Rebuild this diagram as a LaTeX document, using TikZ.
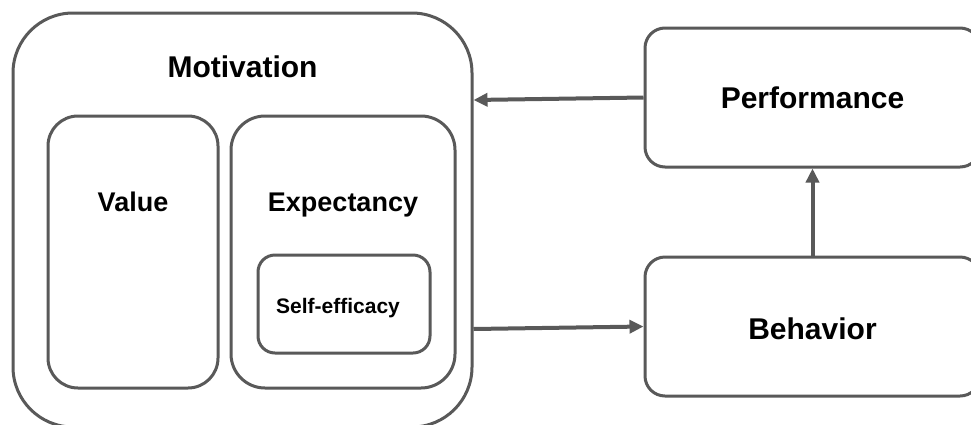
\documentclass[tikz,border=0pt]{standalone}
\usepackage{fontspec}
\setmainfont{Liberation Sans}
\usepackage{tikz}
\usetikzlibrary{arrows.meta,positioning}
\definecolor{linegray}{RGB}{89,89,89}

\begin{document}
\begin{tikzpicture}[x=1pt,y=-1pt,
    box/.style={draw=linegray,line width=3pt,fill=none,inner sep=0pt},
    flow/.style={draw=linegray,line width=4pt,-{Triangle[length=14pt,width=13pt]}},
    bigtext/.style={font=\bfseries\fontsize{30}{36}\selectfont,anchor=base},
    midtext/.style={font=\bfseries\fontsize{27}{32}\selectfont,anchor=base},
    smalltext/.style={font=\bfseries\fontsize{21}{25}\selectfont,anchor=base}]
            \clip (0,0) rectangle (971,424);
            \fill [white](0,0) rectangle (971,424);
            % boxes
            \node [box,minimum width=459pt,minimum height=414pt,rounded corners=60pt] (motivation) at (242.5,220) {};
            \node [box,minimum width=170pt,minimum height=272pt,rounded corners=30pt] (value) at (133,252) {};
            \node [box,minimum width=224pt,minimum height=272pt,rounded corners=34pt] (expectancy) at (343,252) {};
            \node [box,minimum width=172pt,minimum height=98pt,rounded corners=17pt] (selfeff) at (344,304) {};
            \node [box,minimum width=335pt,minimum height=139pt,rounded corners=20pt] (performance) at (812.5,97.5) {};
            \node [box,minimum width=335pt,minimum height=139pt,rounded corners=20pt] (behavior) at (812.5,326.5) {};
            % labels
            \node [bigtext] (motivationtxt) at (242.5,77) {Motivation};
            \node [midtext] (valuetxt) at (133,211) {Value};
            \node [midtext] (expectancytxt) at (343,211) {Expectancy};
            \node [smalltext] (selfefftxt) at (338,313) {Self-efficacy};
            \node [bigtext] (performancetxt) at (812.5,108) {Performance};
            \node [bigtext] (behaviortxt) at (812.5,339) {Behavior};
            % arrows
            \draw [flow](performance.west)--([yshift=-2.5pt]motivation.east |- performance.west);
            \draw [flow]([yshift=-2.5pt]motivation.east |- behavior.west)--(behavior.west);
            \draw [flow](behavior.north)--(performance.south);
            \end{tikzpicture}
\end{document}
